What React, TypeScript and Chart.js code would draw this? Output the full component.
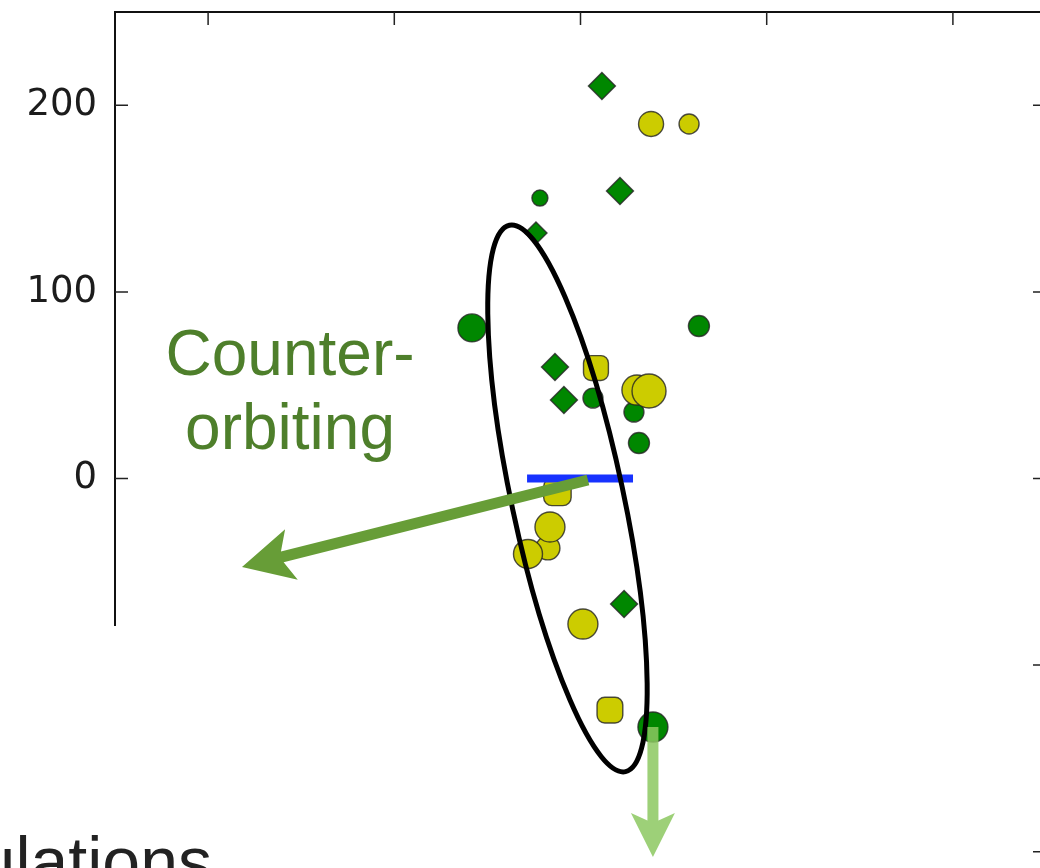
import { useEffect, useRef } from "react";
import { Chart, registerables } from "chart.js";

Chart.register(...registerables);

// Canvas is larger than the viewport: the plot frame continues past the right and bottom edges.
const CANVAS_W = 1100;
const CANVAS_H = 1000;

const axisMin = -250;
const axisMax = 250;
const tickValues = [-200, -100, 0, 100, 200];

// Green population: positions, marker shapes and marker radii
const greenX = [11.5, -21.8, 21.2, -23.9, -58.3, 63.6, -13.7, -8.9, 6.7, 28.7, 31.4, 23.4, 38.9];
const greenY = [210.3, 150.3, 154.1, 131.6, 80.7, 81.7, 59.8, 42.1, 43.1, 35.6, 19.0, -67.3, -133.2];
const greenShape = ["rectRot", "circle", "rectRot", "rectRot", "circle", "circle", "rectRot", "rectRot", "circle", "circle", "circle", "rectRot", "circle"];
const greenSize = [13.5, 8, 13.5, 11, 14, 10.5, 13.5, 13.5, 10, 10, 10.5, 13.5, 15];

// Yellow population
const yellowX = [37.9, 58.3, 8.3, 30.3, 36.8, -12.4, -17.5, -16.4, -28.2, 1.3, 15.8];
const yellowY = [190, 190, 59.2, 47.4, 46.9, -7.2, -37.2, -26, -40.5, -78, -124.1];
const yellowShape = ["circle", "circle", "rectRounded", "circle", "circle", "rectRounded", "circle", "circle", "circle", "circle", "rectRounded"];
const yellowSize = [12.5, 10, 14.5, 15, 17, 16, 12, 15, 14.5, 15, 15];

// Central host marker (short horizontal bar)
const hostX = [-28.7, 28.2];
const hostY = [0, 0];

// Highlighted plane: ellipse in data units, tilt measured on screen from +x
const planeEllipse = { cx: -7, cy: -10.7, rMajor: 150, rMinor: 30, tiltDeg: 78 };

// Arrows in data units; head sizes in pixels
const counterArrow = { x0: 4, y0: -0.8, x1: -181.8, y1: -47.4, width: 11, head: 51, half: 26, notch: 39, color: "#679d37" };
const coArrow = { x0: 38.9, y0: -133.2, x1: 38.9, y1: -202.8, width: 11, head: 44, half: 22, notch: 34, color: "rgba(140,200,96,0.85)" };

const noteLines = ["Counter-", "orbiting"];
const noteX = -156;
const noteBaselines = [55.5, 15.8];
const captionText = "Simulations";

const toPoints = (xs: number[], ys: number[]) => xs.map((x, i) => ({ x, y: ys[i] }));

function drawArrow(ctx: CanvasRenderingContext2D, x0: number, y0: number, x1: number, y1: number, a: any) {
  const dx = x1 - x0;
  const dy = y1 - y0;
  const len = Math.hypot(dx, dy);
  const ux = dx / len;
  const uy = dy / len;
  const nx = -uy;
  const ny = ux;
  const hw = a.width / 2;
  const joint = a.notch + (a.head - a.notch) * (hw / a.half);
  const jx = x1 - ux * joint;
  const jy = y1 - uy * joint;
  const bx = x1 - ux * a.head;
  const by = y1 - uy * a.head;
  ctx.beginPath();
  ctx.moveTo(x0 + nx * hw, y0 + ny * hw);
  ctx.lineTo(jx + nx * hw, jy + ny * hw);
  ctx.lineTo(bx + nx * a.half, by + ny * a.half);
  ctx.lineTo(x1, y1);
  ctx.lineTo(bx - nx * a.half, by - ny * a.half);
  ctx.lineTo(jx - nx * hw, jy - ny * hw);
  ctx.lineTo(x0 - nx * hw, y0 - ny * hw);
  ctx.closePath();
  ctx.fillStyle = a.color;
  ctx.fill();
}

const overlayPlugin = {
  id: "overlay",
  afterDraw(chart: any) {
    const { ctx, chartArea: area, scales } = chart;
    const xs = scales.x;
    const ys = scales.y;
    const px = (v: number) => xs.getPixelForValue(v);
    const py = (v: number) => ys.getPixelForValue(v);
    const unit = (px(100) - px(0)) / 100;
    ctx.save();

    // top and right spines
    ctx.strokeStyle = "#111";
    ctx.lineWidth = 2;
    ctx.beginPath();
    ctx.moveTo(area.left, area.top);
    ctx.lineTo(area.right, area.top);
    ctx.lineTo(area.right, area.bottom);
    ctx.stroke();

    // inward tick marks on all four sides
    const tl = 13;
    ctx.strokeStyle = "#222";
    ctx.lineWidth = 1.5;
    ctx.beginPath();
    for (const t of xs.ticks) {
      const x = px(t.value);
      ctx.moveTo(x, area.top);
      ctx.lineTo(x, area.top + tl);
      ctx.moveTo(x, area.bottom);
      ctx.lineTo(x, area.bottom - tl);
    }
    for (const t of ys.ticks) {
      const y = py(t.value);
      ctx.moveTo(area.left, y);
      ctx.lineTo(area.left + tl, y);
      ctx.moveTo(area.right, y);
      ctx.lineTo(area.right - tl, y);
    }
    ctx.stroke();

    // caption panel laid over the lower-left corner of the figure
    ctx.fillStyle = "#ffffff";
    ctx.fillRect(0, 626, 480, CANVAS_H - 626);
    ctx.fillStyle = "#222222";
    ctx.font = '68px "Liberation Sans", Arial, sans-serif';
    ctx.textAlign = "right";
    ctx.textBaseline = "alphabetic";
    ctx.fillText(captionText, 212, 885);

    // highlighted ellipse
    const e = planeEllipse;
    ctx.beginPath();
    ctx.ellipse(px(e.cx), py(e.cy), e.rMajor * unit, e.rMinor * unit, (e.tiltDeg * Math.PI) / 180, 0, Math.PI * 2);
    ctx.strokeStyle = "#000";
    ctx.lineWidth = 5;
    ctx.stroke();

    // arrows
    drawArrow(ctx, px(counterArrow.x0), py(counterArrow.y0), px(counterArrow.x1), py(counterArrow.y1), counterArrow);
    drawArrow(ctx, px(coArrow.x0), py(coArrow.y0), px(coArrow.x1), py(coArrow.y1), coArrow);

    // label
    ctx.fillStyle = "#4e7f2b";
    ctx.font = '64px "Liberation Sans", Arial, sans-serif';
    ctx.textAlign = "center";
    noteLines.forEach((line, i) => ctx.fillText(line, px(noteX), py(noteBaselines[i])));

    ctx.restore();
  },
};

const fixedTicks = (scale: any) => {
  scale.ticks = tickValues.map((value) => ({ value }));
};

const noEdgePadding = (s: any) => {
  s.paddingTop = 0;
  s.paddingBottom = 0;
  s.paddingLeft = 0;
  s.paddingRight = 0;
};

export default function App() {
  const canvasRef = useRef<HTMLCanvasElement | null>(null);

  useEffect(() => {
    const canvas = canvasRef.current;
    if (!canvas) return;
    const edge = "rgba(35,35,35,0.8)";
    const chart = new Chart(canvas, {
      type: "scatter",
      data: {
        datasets: [
          {
            label: "host",
            data: toPoints(hostX, hostY),
            showLine: true,
            borderColor: "#1732ff",
            borderWidth: 8,
            pointRadius: 0,
            order: 0,
          },
          {
            label: "yellow",
            data: toPoints(yellowX, yellowY),
            backgroundColor: "#cccc00",
            borderColor: edge,
            borderWidth: 1.4,
            pointStyle: yellowShape as any,
            pointRadius: yellowSize,
            order: 1,
          },
          {
            label: "green",
            data: toPoints(greenX, greenY),
            backgroundColor: "#008700",
            borderColor: edge,
            borderWidth: 1.4,
            pointStyle: greenShape as any,
            pointRadius: greenSize,
            order: 2,
          },
        ],
      },
      options: {
        animation: false,
        responsive: false,
        events: [],
        layout: { autoPadding: false, padding: { top: 12, right: CANVAS_W - 1046, left: 0, bottom: 0 } },
        plugins: { legend: { display: false }, tooltip: { enabled: false } },
        scales: {
          x: {
            type: "linear",
            position: "bottom",
            min: axisMin,
            max: axisMax,
            grid: { display: false, drawTicks: false },
            border: { display: true, color: "#111", width: 2 },
            afterBuildTicks: fixedTicks,
            ticks: {
              color: "#1c1c1c",
              font: { family: '"DejaVu Sans"', size: 37 },
            },
            afterFit: (s: any) => {
              s.height = CANVAS_H - 945;
              noEdgePadding(s);
            },
          },
          y: {
            type: "linear",
            position: "left",
            min: axisMin,
            max: axisMax,
            grid: { display: false, drawTicks: false },
            border: { display: true, color: "#111", width: 2 },
            afterBuildTicks: fixedTicks,
            ticks: {
              padding: 18,
              color: "#1c1c1c",
              font: { family: '"DejaVu Sans"', size: 37 },
            },
            afterFit: (s: any) => {
              s.width = 115;
              noEdgePadding(s);
            },
          },
        },
      },
      plugins: [overlayPlugin],
    });
    return () => chart.destroy();
  }, []);

  return (
    <div style={{ position: "fixed", left: 0, top: 0, width: "100vw", height: "100vh", overflow: "hidden", background: "#fff" }}>
      <canvas ref={canvasRef} width={CANVAS_W} height={CANVAS_H} style={{ display: "block", width: CANVAS_W, height: CANVAS_H }} />
    </div>
  );
}
